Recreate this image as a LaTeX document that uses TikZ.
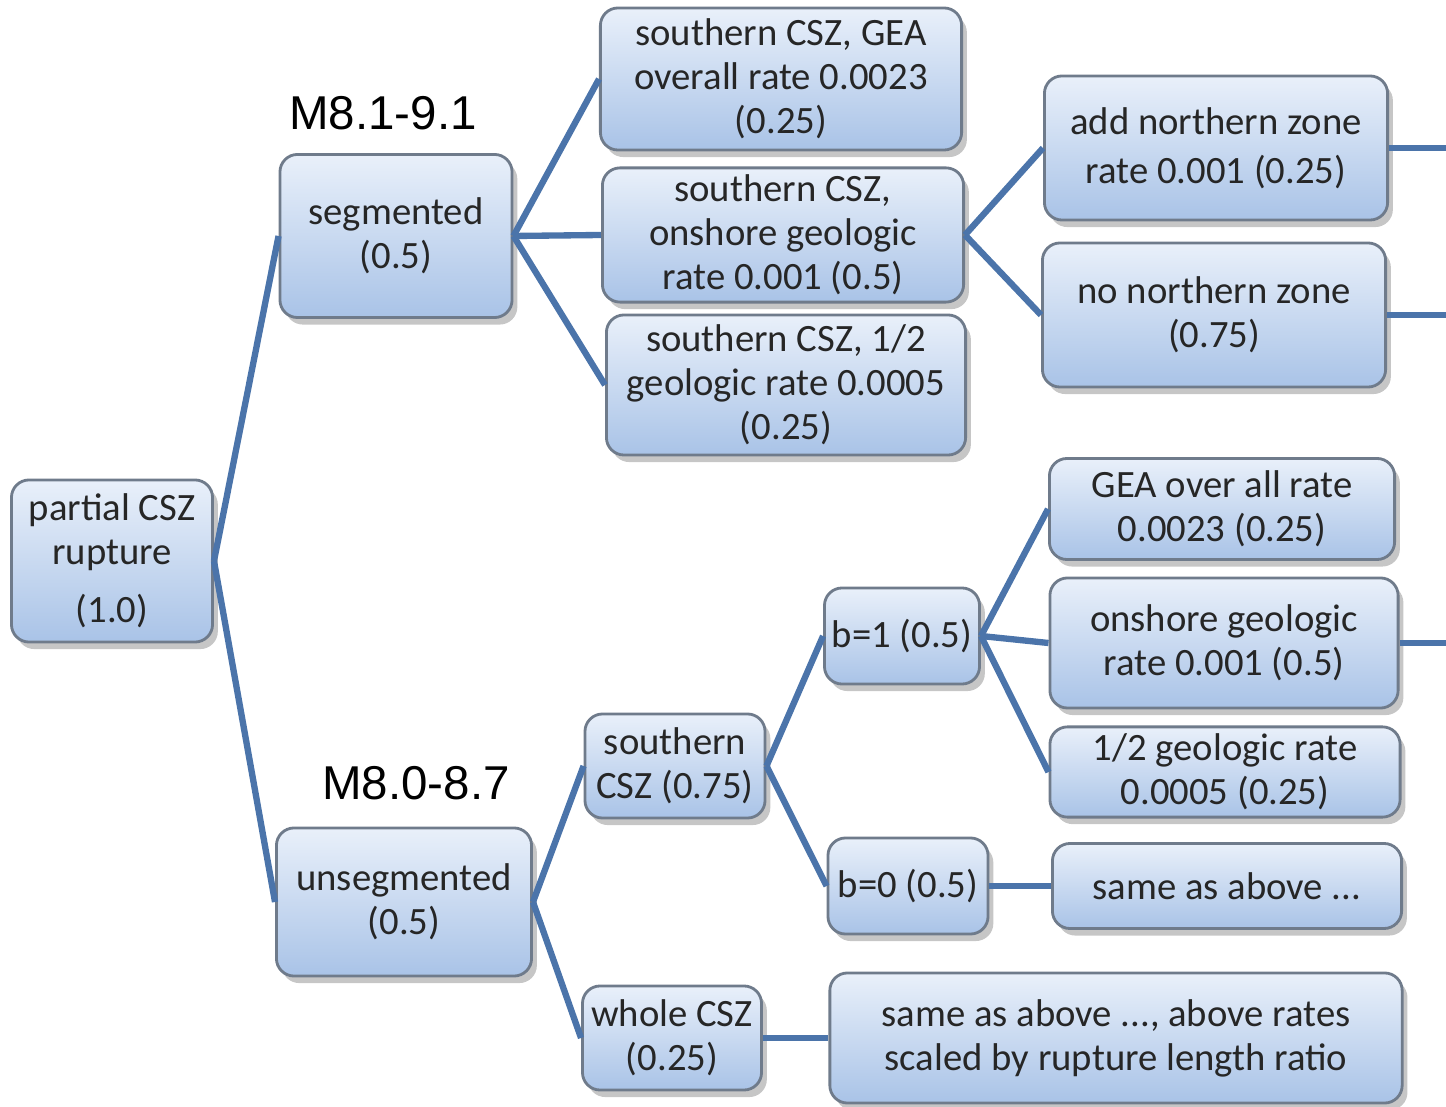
\documentclass[tikz,border=0pt]{standalone}
\usepackage{fontspec}
\setmainfont{Carlito}
\newfontfamily\arialfont{Liberation Sans}
\usetikzlibrary{shadows}
\definecolor{boxtop}{HTML}{E9F0FA}
\definecolor{boxbot}{HTML}{A9C3E7}
\definecolor{boxline}{HTML}{6F7B8B}
\definecolor{linkblue}{HTML}{4B74AA}
\begin{document}
\begin{tikzpicture}[x=0.01cm, y=-0.01cm,
    box/.style={draw=boxline, line width=0.8pt, rounded corners=5pt,
      top color=boxtop, bottom color=boxbot, align=center, inner sep=2pt,
      text=black!85, font=\fontsize{11}{12.5}\selectfont,
      drop shadow={shadow xshift=1.5pt, shadow yshift=-2pt, opacity=0.45}},
    link/.style={draw=linkblue, line width=1.8pt},
    mag/.style={font=\arialfont\fontsize{13.5}{16}\selectfont}]

    \useasboundingbox (0,0) rectangle (1446,1107);

    % first column
    \node[box, minimum width=2.01cm, minimum height=1.62cm] (root) at (112,561) {partial CSZ\\rupture\\[4pt](1.0)};

    % segmented branch
    \node[box, minimum width=2.32cm, minimum height=1.63cm] (seg) at (396,236) {segmented\\(0.5)};
    \node[mag] (magseg) at (383,113) {M8.1-9.1};

    \node[box, minimum width=3.61cm, minimum height=1.42cm] (sgea) at (781,79) {southern CSZ, GEA\\overall rate 0.0023\\(0.25)};
    \node[box, minimum width=3.61cm, minimum height=1.26cm] (sons) at (783,235) {southern CSZ,\\onshore geologic\\rate 0.001 (0.5)};
    \node[box, minimum width=3.59cm, minimum height=1.40cm] (shalf) at (786,385) {southern CSZ, 1/2\\geologic rate 0.0005\\(0.25)};

    \node[box, minimum width=3.43cm, minimum height=1.44cm] (nadd) at (1216,148) {add northern zone\\[1.5pt]rate 0.001 (0.25)};
    \node[box, minimum width=3.43cm, minimum height=1.44cm] (nno) at (1214,315) {no northern zone\\(0.75)};
    \coordinate (naddout) at (1446,148);
    \coordinate (nnoout) at (1446,315);

    % unsegmented branch
    \node[box, minimum width=2.55cm, minimum height=1.48cm] (unseg) at (404,902) {unsegmented\\(0.5)};
    \node[mag] (magunseg) at (416,783) {M8.0-8.7};

    \node[box, minimum width=1.80cm, minimum height=1.04cm] (south) at (675,766) {southern\\CSZ (0.75)};
    \node[box, minimum width=1.79cm, minimum height=1.04cm] (whole) at (672,1038) {whole CSZ\\(0.25)};

    \node[box, minimum width=1.55cm, minimum height=0.96cm] (bone) at (902,636) {b=1 (0.5)};
    \node[box, minimum width=1.60cm, minimum height=0.96cm] (bzero) at (908,886) {b=0 (0.5)};

    \node[box, minimum width=3.45cm, minimum height=1.01cm] (gea) at (1222,509) {GEA over all rate\\0.0023 (0.25)};
    \node[box, minimum width=3.48cm, minimum height=1.30cm] (ons) at (1224,643) {onshore geologic\\rate 0.001 (0.5)};
    \node[box, minimum width=3.50cm, minimum height=0.88cm] (half) at (1225,772) {1/2 geologic rate\\0.0005 (0.25)};
    \coordinate (onsout) at (1446,643);

    \node[box, minimum width=3.49cm, minimum height=0.85cm] (same) at (1227,886) {same as above ...};
    \node[box, minimum width=5.72cm, minimum height=1.30cm] (scaled) at (1116,1038) {same as above ..., above rates\\scaled by rupture length ratio};

    % connectors
    \draw[link] (root.east) -- (seg.west);
    \draw[link] (root.east) -- (unseg.west);
    \draw[link] (seg.east) -- (sgea.west);
    \draw[link] (seg.east) -- (sons.west);
    \draw[link] (seg.east) -- (shalf.west);
    \draw[link] (sons.east) -- (nadd.west);
    \draw[link] (sons.east) -- (nno.west);
    \draw[link] (nadd.east) -- (naddout);
    \draw[link] (nno.east) -- (nnoout);
    \draw[link] (unseg.east) -- (south.west);
    \draw[link] (unseg.east) -- (whole.west);
    \draw[link] (south.east) -- (bone.west);
    \draw[link] (south.east) -- (bzero.west);
    \draw[link] (bone.east) -- (gea.west);
    \draw[link] (bone.east) -- (ons.west);
    \draw[link] (bone.east) -- (half.west);
    \draw[link] (ons.east) -- (onsout);
    \draw[link] (bzero.east) -- (same.west);
    \draw[link] (whole.east) -- (scaled.west);

\end{tikzpicture}
\end{document}
